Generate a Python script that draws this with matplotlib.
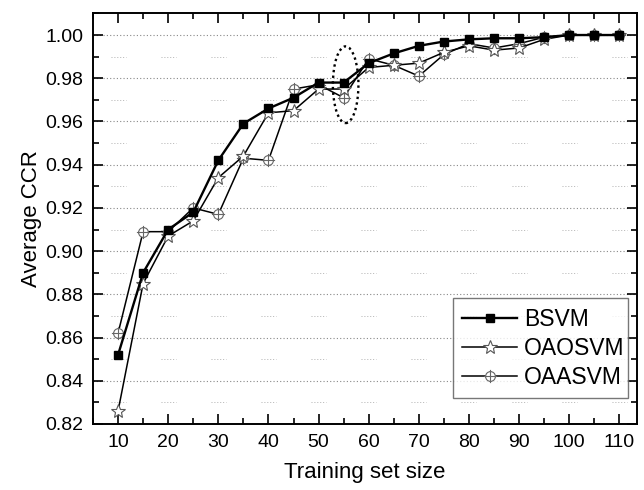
import matplotlib
matplotlib.use("Agg")
import matplotlib.pyplot as plt
from matplotlib.path import Path
from matplotlib.patches import Ellipse
from matplotlib.ticker import MultipleLocator, FormatStrFormatter

plt.rcParams['font.family'] = ['Liberation Sans', 'DejaVu Sans']

x = [10, 15, 20, 25, 30, 35, 40, 45, 50, 55, 60, 65, 70, 75, 80, 85, 90, 95, 100, 105, 110]
bsvm = [0.852, 0.890, 0.910, 0.918, 0.942, 0.959, 0.966, 0.971, 0.978, 0.978, 0.987, 0.9915,
        0.995, 0.997, 0.998, 0.9985, 0.9985, 0.999, 1.000, 1.000, 1.000]
oaosvm = [0.826, 0.885, 0.907, 0.914, 0.934, 0.944, 0.964, 0.965, 0.975, 0.975, 0.985, 0.986,
          0.987, 0.992, 0.995, 0.993, 0.994, 0.998, 1.000, 1.000, 1.000]
oaasvm = [0.862, 0.909, 0.909, 0.920, 0.917, 0.943, 0.942, 0.975, 0.977, 0.971, 0.989, 0.986,
          0.981, 0.991, 0.996, 0.994, 0.996, 0.999, 1.000, 1.000, 1.000]
labels = ["BSVM", "OAOSVM", "OAASVM"]
xlabel = "Training set size"
ylabel = "Average CCR"

# circle-with-cross marker
circ = Path.unit_circle()
cross = Path([(-1.35, 0), (1.35, 0), (0, -1.35), (0, 1.35)],
             [Path.MOVETO, Path.LINETO, Path.MOVETO, Path.LINETO])
circplus = Path.make_compound_path(circ, cross)

fig = plt.figure(figsize=(6.44, 4.90), dpi=100)
ax = fig.add_axes([0.1444, 0.1347, 0.8446, 0.8388])

ax.plot(x, bsvm, color='black', lw=1.7, marker='s', ms=5.8, mfc='black', mec='black',
        label=labels[0], zorder=5)
ax.plot(x, oaosvm, color='black', lw=1.1, marker='*', ms=10.5, mfc='white', mec='#555555',
        mew=0.8, label=labels[1], zorder=4)
ax.plot(x, oaasvm, color='black', lw=1.1, marker=circplus, ms=9.5, mfc='white', mec='#666666',
        mew=0.8, label=labels[2], zorder=3)

ax.add_patch(Ellipse((55.4, 0.977), 5.1, 0.0355, fill=False, ls=(0, (1, 1.4)),
                     lw=1.7, ec='black', zorder=6))

ax.set_xlim(5, 113.5)
ax.set_ylim(0.82, 1.0102)
ax.xaxis.set_major_locator(MultipleLocator(10))
ax.xaxis.set_minor_locator(MultipleLocator(5))
ax.yaxis.set_major_locator(MultipleLocator(0.02))
ax.yaxis.set_minor_locator(MultipleLocator(0.01))
ax.yaxis.set_major_formatter(FormatStrFormatter('%.2f'))

ax.tick_params(which='both', direction='in', top=True, right=True, width=1.2)
ax.tick_params(which='major', length=7, labelsize=14, pad=7)
ax.tick_params(which='minor', length=4)
for s in ax.spines.values():
    s.set_linewidth(1.4)

ax.grid(axis='y', which='major', ls=(0, (1, 2)), color='#888888', lw=0.8)
# faint short dotted segments at minor y levels near major x ticks
yminor = [v for v in ax.yaxis.get_minorticklocs() if abs(round(v / 0.02) * 0.02 - v) > 1e-6]
for xv in ax.xaxis.get_majorticklocs():
    for yv in yminor:
        if 0.82 < yv < 1.01:
            ax.plot([xv - 1.5, xv + 1.5], [yv, yv], ls=(0, (1, 2)), color='#b0b0b0', lw=0.7, zorder=1)

ax.set_xlabel(xlabel, fontsize=16, labelpad=8)
ax.set_ylabel(ylabel, fontsize=16, labelpad=2)

leg = ax.legend(loc='lower left', bbox_to_anchor=(0.662, 0.063, 0.321, 0.246), mode='expand',
                fontsize=16.5, frameon=True, fancybox=False, edgecolor='#555555',
                handlelength=2.4, handletextpad=0.3, labelspacing=0.27, borderpad=0.4,
                borderaxespad=0)
leg.get_frame().set_linewidth(1.0)

fig.savefig("out.png", dpi=100)
